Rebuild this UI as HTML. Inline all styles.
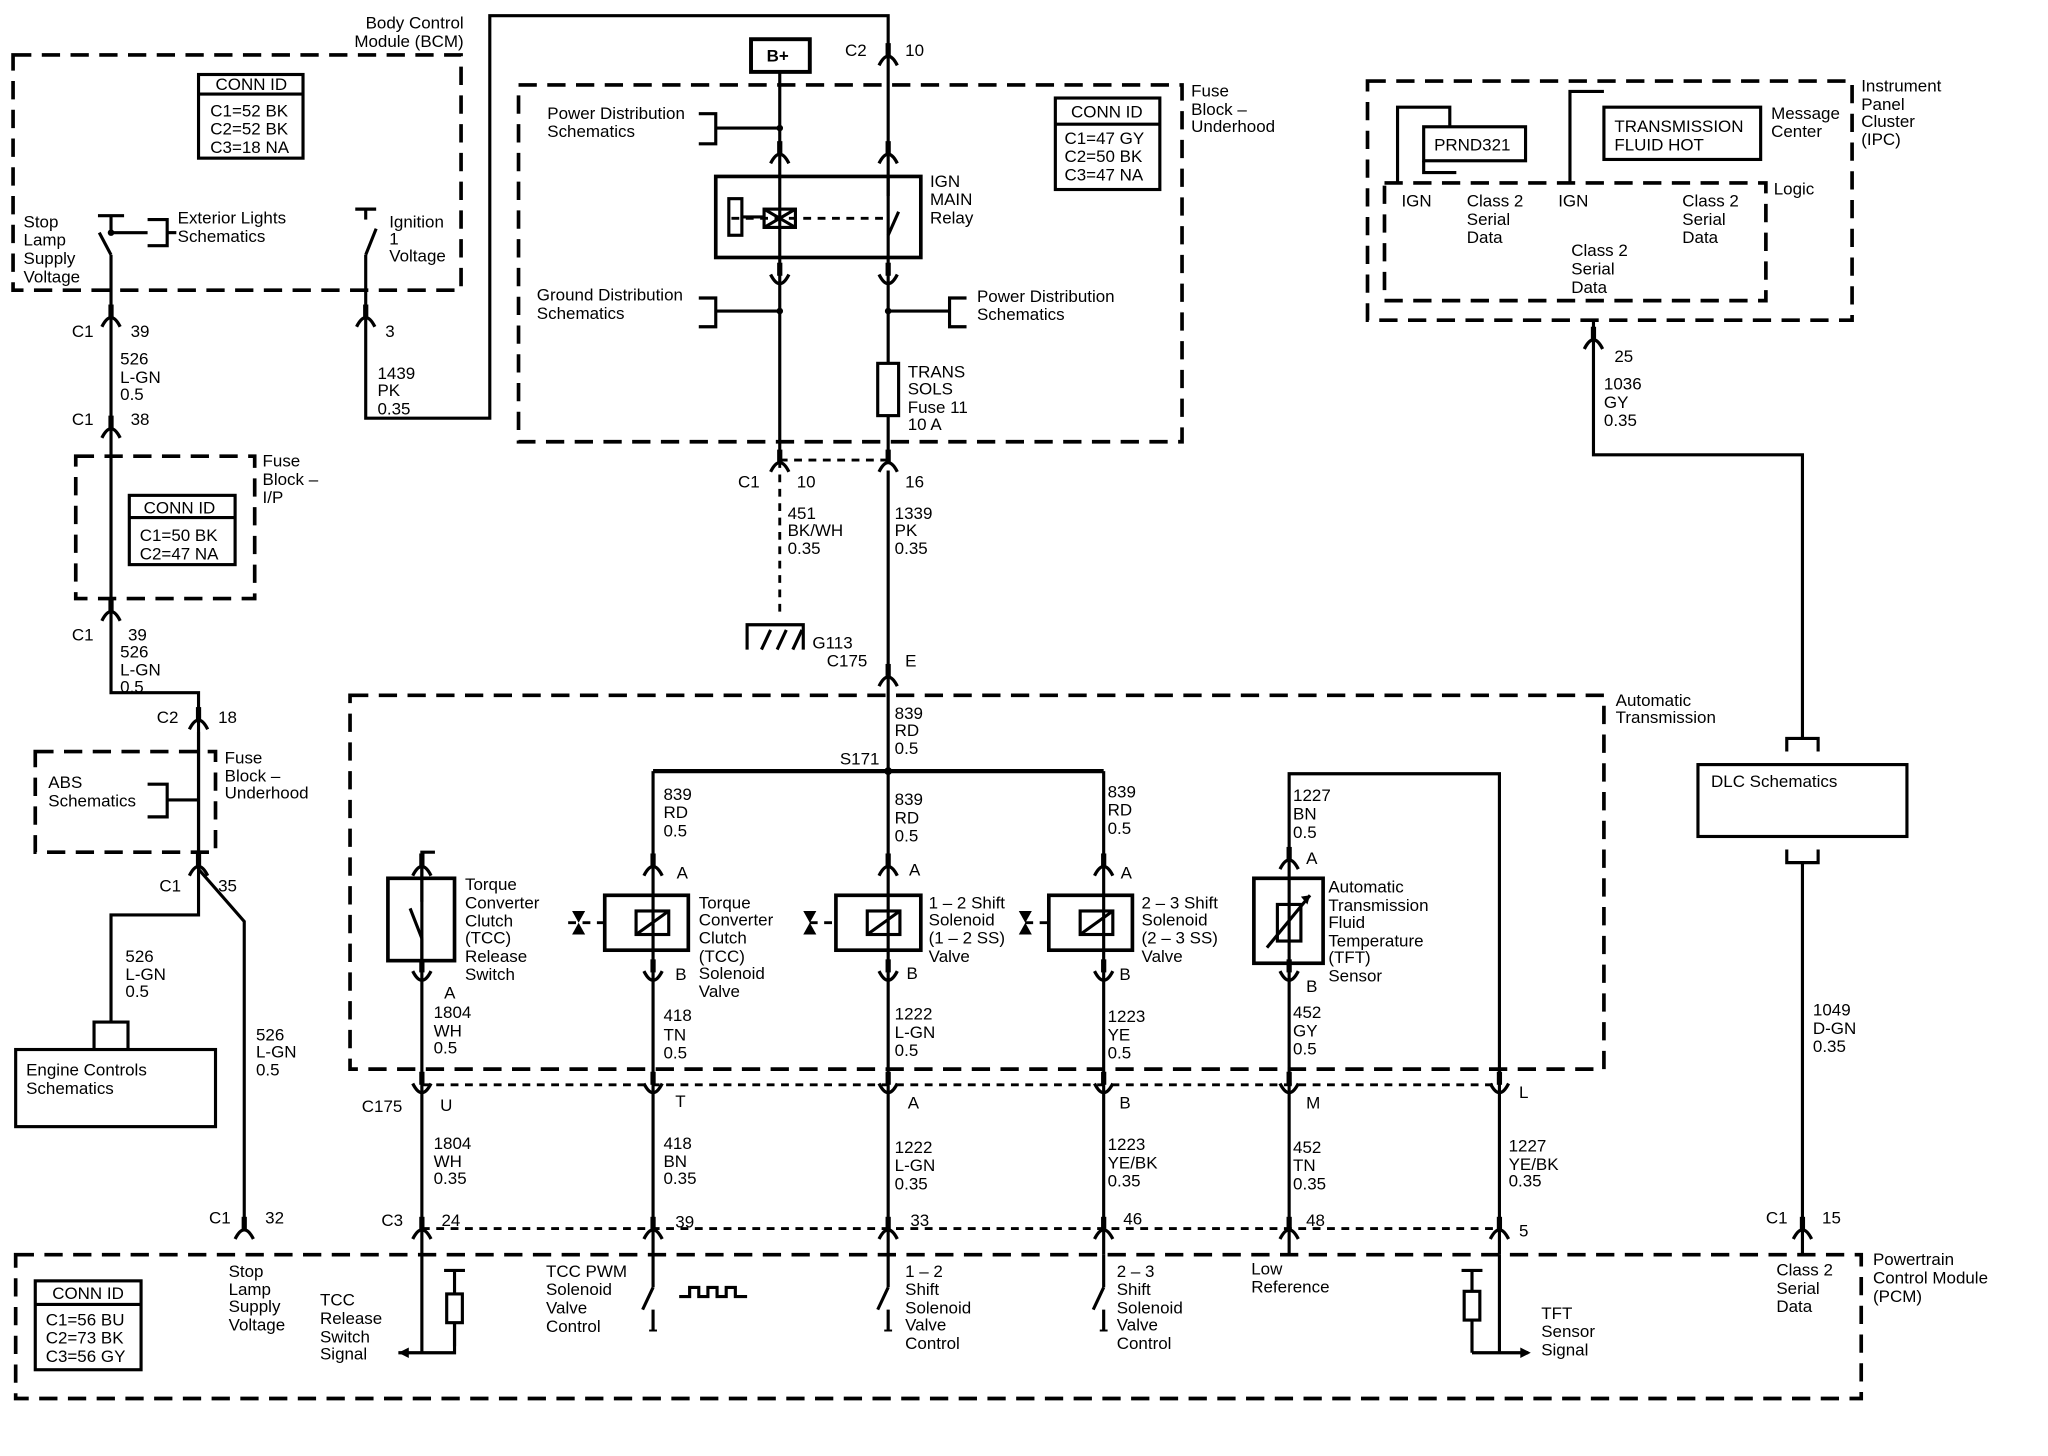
<!DOCTYPE html>
<html><head><meta charset="utf-8"><style>
html,body{margin:0;padding:0;background:#fff}
svg{display:block}
text{font-family:"Liberation Sans",sans-serif;font-size:13px;fill:#000}
</style></head><body>
<svg width="2048" height="1456" viewBox="0 0 1568 1114" preserveAspectRatio="none" xmlns="http://www.w3.org/2000/svg">
<defs>
<g id="cu"><path d="M-7 5 Q0 -9 7 5" fill="none" stroke="#000" stroke-width="2.5"/><line x1="0" y1="-12" x2="0" y2="-2" stroke="#000" stroke-width="4"/></g>
<g id="cd"><path d="M-7 -5 Q0 9 7 -5" fill="none" stroke="#000" stroke-width="2.5"/><line x1="0" y1="-14" x2="0" y2="-4" stroke="#000" stroke-width="4"/></g>
</defs>
<rect width="1568" height="1114" fill="#fff"/>
<g fill="none" stroke="#000" stroke-width="2.8" stroke-dasharray="14,8">
<rect x="10" y="42" width="343" height="180"/>
<rect x="58" y="349" width="137" height="109"/>
<rect x="27" y="575" width="138" height="77"/>
<rect x="397" y="65" width="508" height="273"/>
<rect x="268" y="532" width="960" height="286"/>
<rect x="12" y="960" width="1413" height="110"/>
<rect x="1047" y="62" width="371" height="183"/>
<rect x="1060" y="140" width="292" height="90"/>
</g>
<g fill="none" stroke="#000" stroke-width="2.2" stroke-dasharray="6,5">
<line x1="323" y1="830" x2="1148" y2="830"/>
<line x1="323" y1="940" x2="1148" y2="940"/>
<line x1="597" y1="352" x2="680" y2="352"/>
<line x1="597" y1="352" x2="597" y2="468"/>
<line x1="560" y1="167" x2="680" y2="167"/>
<line x1="435" y1="706" x2="463" y2="706"/><line x1="620" y1="706" x2="640" y2="706"/><line x1="785" y1="706" x2="803" y2="706"/>
</g>
<g fill="none" stroke="#000" stroke-width="2.4">
<polyline points="85,195 85,530 152,530 152,700 85,700 85,782"/>
<line x1="85" y1="178" x2="85" y2="165"/><line x1="75" y1="165" x2="95" y2="165"/>
<line x1="85" y1="195" x2="76" y2="178"/>
<line x1="85" y1="178" x2="113" y2="178"/>
<polyline points="113,168 128,168 128,188 113,188"/><line x1="128" y1="178" x2="135" y2="178"/>
<polyline points="280,168 280,160"/><line x1="272" y1="160" x2="288" y2="160"/>
<line x1="288" y1="175" x2="280" y2="195"/>
<polyline points="280,195 280,320 375,320 375,12 680,12 680,350"/>
<polyline points="152,665 187,705 187,935"/>
<polyline points="113,600 128,600 128,625 113,625"/><line x1="128" y1="612" x2="152" y2="612"/>
<line x1="152" y1="560" x2="152" y2="665"/>
<rect x="12" y="803" width="153" height="59"/>
<polyline points="72,803 72,782 98,782 98,803"/>
<rect x="152" y="57" width="80" height="64"/><line x1="152" y1="72" x2="232" y2="72"/>
<rect x="99" y="379" width="81" height="53"/><line x1="99" y1="396" x2="180" y2="396"/>
<rect x="808" y="75" width="80" height="70"/><line x1="808" y1="95" x2="888" y2="95"/>
<rect x="27" y="980" width="81" height="68"/><line x1="27" y1="998" x2="108" y2="998"/>
<rect x="575" y="30" width="45" height="25" stroke-width="3"/>
<line x1="597" y1="55" x2="597" y2="350"/>
<rect x="548" y="135" width="157" height="62" stroke-width="2.8"/>
<rect x="558" y="152" width="10" height="28"/><polyline points="568,166 585,166"/>
<rect x="585" y="160" width="24" height="14"/><line x1="585" y1="160" x2="609" y2="174"/><line x1="585" y1="174" x2="609" y2="160"/>
<line x1="680" y1="150" x2="680" y2="135"/><line x1="688" y1="162" x2="680" y2="180"/>
<polyline points="535,87 548,87 548,110 535,110"/><line x1="548" y1="98" x2="597" y2="98"/>
<polyline points="535,228 548,228 548,250 535,250"/><line x1="548" y1="238" x2="597" y2="238"/>
<polyline points="740,228 727,228 727,250 740,250"/><line x1="680" y1="238" x2="727" y2="238"/>
<rect x="672" y="278" width="16" height="40" fill="#fff"/>
<polyline points="572,497 572,478 615,478 615,497"/>
<line x1="583" y1="497" x2="590" y2="482"/><line x1="595" y1="497" x2="602" y2="482"/><line x1="607" y1="497" x2="614" y2="482"/>
<line x1="680" y1="360" x2="680" y2="960"/>
<line x1="500" y1="590" x2="845" y2="590" stroke-width="3.2"/>
<polyline points="500,590 500,960"/><line x1="845" y1="590" x2="845" y2="960"/>
<polyline points="987,655 987,592 1148,592 1148,960"/>
<line x1="987" y1="655" x2="987" y2="960"/>
<line x1="323" y1="655" x2="323" y2="1035"/>
<rect x="297" y="672" width="51" height="63" stroke-width="2.8"/>
<line x1="323" y1="662" x2="323" y2="690"/><line x1="314" y1="695" x2="323" y2="718"/><line x1="323" y1="718" x2="323" y2="735"/>
<polyline points="323,662 323,652 333,652"/>
<g stroke-width="2.8">
<rect x="463" y="685" width="64" height="42"/><rect x="640" y="685" width="65" height="42"/><rect x="803" y="685" width="64" height="42"/>
<rect x="960" y="672" width="53" height="65"/>
</g>
<rect x="487" y="697" width="25" height="18"/><rect x="664" y="697" width="25" height="18"/><rect x="827" y="697" width="25" height="18"/>
<line x1="487" y1="715" x2="512" y2="697"/><line x1="664" y1="715" x2="689" y2="697"/><line x1="827" y1="715" x2="852" y2="697"/>
<rect x="978" y="692" width="18" height="28"/><line x1="970" y1="725" x2="1003" y2="685"/>
<line x1="348" y1="972" x2="348" y2="1030"/><rect x="342" y="990" width="12" height="22" fill="#fff"/>
<line x1="340" y1="972" x2="356" y2="972"/><polyline points="348,1012 348,1035 305,1035"/>
<line x1="500" y1="960" x2="500" y2="985"/><line x1="500" y1="985" x2="492" y2="1002"/><line x1="500" y1="1002" x2="500" y2="1018"/>
<polyline points="520,992 528,992 528,985 535,985 535,992 542,992 542,985 549,985 549,992 556,992 556,985 563,985 563,992 572,992"/>
<line x1="680" y1="960" x2="680" y2="985"/><line x1="680" y1="985" x2="672" y2="1002"/><line x1="680" y1="1002" x2="680" y2="1018"/>
<line x1="845" y1="960" x2="845" y2="985"/><line x1="845" y1="985" x2="837" y2="1002"/><line x1="845" y1="1002" x2="845" y2="1018"/>
<line x1="1127" y1="972" x2="1127" y2="1035"/><rect x="1121" y="988" width="12" height="22" fill="#fff"/>
<line x1="1119" y1="972" x2="1135" y2="972"/><polyline points="1127,1035 1170,1035"/>
<line x1="1148" y1="960" x2="1148" y2="1035"/>
<polyline points="1070,140 1070,82 1110,82 1110,97"/><polyline points="1090,123 1090,132 1115,132"/>
<rect x="1090" y="97" width="78" height="26"/>
<polyline points="1202,140 1202,70 1228,70"/>
<rect x="1228" y="82" width="120" height="40"/>
<polyline points="1220,245 1220,348 1380,348 1380,565"/>
<polyline points="1368,575 1368,565 1392,565 1392,575"/>
<rect x="1300" y="585" width="160" height="55"/>
<polyline points="1368,650 1368,660 1392,660 1392,650"/>
<line x1="1380" y1="660" x2="1380" y2="960"/>
</g>
<g fill="#000">
<polygon points="305,1035 313,1031 313,1039"/><polygon points="1172,1035 1164,1031 1164,1039"/>
<polygon points="438,697 448,697 443,706"/><polygon points="438,715 448,715 443,706"/>
<polygon points="615,697 625,697 620,706"/><polygon points="615,715 625,715 620,706"/>
<polygon points="780,697 790,697 785,706"/><polygon points="780,715 790,715 785,706"/>
<polygon points="1003,685 996,686 1001,692"/>
<circle cx="597" cy="98" r="2.5"/><circle cx="597" cy="238" r="2.5"/><circle cx="680" cy="238" r="2.5"/><circle cx="680" cy="590" r="3"/>
<circle cx="85" cy="178" r="2.5"/>
</g>
<g stroke="#000" stroke-width="1.5">
<line x1="497" y1="1018" x2="503" y2="1018"/><line x1="677" y1="1018" x2="683" y2="1018"/><line x1="842" y1="1018" x2="848" y2="1018"/>
</g>
<use href="#cu" x="85" y="245"/><use href="#cu" x="280" y="245"/>
<use href="#cu" x="85" y="330"/><use href="#cu" x="85" y="470"/>
<use href="#cu" x="152" y="553"/><use href="#cu" x="152" y="665"/>
<use href="#cu" x="680" y="45"/>
<use href="#cu" x="597" y="120"/><use href="#cu" x="680" y="120"/>
<use href="#cd" x="597" y="215"/><use href="#cd" x="680" y="215"/>
<use href="#cu" x="597" y="356"/><use href="#cu" x="680" y="356"/>
<use href="#cu" x="680" y="520"/>
<use href="#cu" x="323" y="665"/><use href="#cu" x="500" y="665"/><use href="#cu" x="680" y="665"/><use href="#cu" x="845" y="665"/><use href="#cu" x="987" y="660"/>
<use href="#cd" x="323" y="748"/><use href="#cd" x="500" y="748"/><use href="#cd" x="680" y="748"/><use href="#cd" x="845" y="748"/><use href="#cd" x="987" y="748"/>
<use href="#cd" x="323" y="834"/><use href="#cd" x="500" y="834"/><use href="#cd" x="680" y="834"/><use href="#cd" x="845" y="834"/><use href="#cd" x="987" y="834"/><use href="#cd" x="1148" y="834"/>
<use href="#cu" x="187" y="943"/><use href="#cu" x="323" y="943"/><use href="#cu" x="500" y="943"/><use href="#cu" x="680" y="943"/><use href="#cu" x="845" y="943"/><use href="#cu" x="987" y="943"/><use href="#cu" x="1148" y="943"/><use href="#cu" x="1380" y="943"/>
<use href="#cu" x="1220" y="262"/>
<g>
<text x="355" y="22" text-anchor="end">Body Control</text><text x="355" y="36" text-anchor="end">Module (BCM)</text>
<text x="165" y="69">CONN ID</text><text x="161" y="89">C1=52 BK</text><text x="161" y="103">C2=52 BK</text><text x="161" y="117">C3=18 NA</text>
<text x="18" y="174">Stop</text><text x="18" y="188">Lamp</text><text x="18" y="202">Supply</text><text x="18" y="216">Voltage</text>
<text x="136" y="171">Exterior Lights</text><text x="136" y="185">Schematics</text>
<text x="298" y="174">Ignition</text><text x="298" y="187">1</text><text x="298" y="200">Voltage</text>
<text x="55" y="258">C1</text><text x="100" y="258">39</text><text x="295" y="258">3</text>
<text x="92" y="279">526</text><text x="92" y="293">L-GN</text><text x="92" y="306">0.5</text>
<text x="289" y="290">1439</text><text x="289" y="303">PK</text><text x="289" y="317">0.35</text>
<text x="55" y="325">C1</text><text x="100" y="325">38</text>
<text x="201" y="357">Fuse</text><text x="201" y="371">Block –</text><text x="201" y="385">I/P</text>
<text x="110" y="393">CONN ID</text><text x="107" y="414">C1=50 BK</text><text x="107" y="428">C2=47 NA</text>
<text x="55" y="490">C1</text><text x="98" y="490">39</text><text x="92" y="503">526</text><text x="92" y="517">L-GN</text><text x="92" y="530">0.5</text>
<text x="120" y="553">C2</text><text x="167" y="553">18</text>
<text x="172" y="584">Fuse</text><text x="172" y="598">Block –</text><text x="172" y="611">Underhood</text>
<text x="37" y="603">ABS</text><text x="37" y="617">Schematics</text>
<text x="122" y="682">C1</text><text x="167" y="682">35</text>
<text x="96" y="736">526</text><text x="96" y="750">L-GN</text><text x="96" y="763">0.5</text>
<text x="196" y="796">526</text><text x="196" y="809">L-GN</text><text x="196" y="823">0.5</text>
<text x="20" y="823">Engine Controls</text><text x="20" y="837">Schematics</text>
<text x="587" y="47" font-weight="bold">B+</text>
<text x="647" y="43">C2</text><text x="693" y="43">10</text>
<text x="419" y="91">Power Distribution</text><text x="419" y="105">Schematics</text>
<text x="820" y="90">CONN ID</text><text x="815" y="110">C1=47 GY</text><text x="815" y="124">C2=50 BK</text><text x="815" y="138">C3=47 NA</text>
<text x="912" y="74">Fuse</text><text x="912" y="88">Block –</text><text x="912" y="101">Underhood</text>
<text x="712" y="143">IGN</text><text x="712" y="157">MAIN</text><text x="712" y="171">Relay</text>
<text x="411" y="230">Ground Distribution</text><text x="411" y="244">Schematics</text>
<text x="748" y="231">Power Distribution</text><text x="748" y="245">Schematics</text>
<text x="695" y="289">TRANS</text><text x="695" y="302">SOLS</text><text x="695" y="316">Fuse 11</text><text x="695" y="329">10 A</text>
<text x="565" y="373">C1</text><text x="610" y="373">10</text><text x="693" y="373">16</text>
<text x="603" y="397">451</text><text x="603" y="410">BK/WH</text><text x="603" y="424">0.35</text>
<text x="685" y="397">1339</text><text x="685" y="410">PK</text><text x="685" y="424">0.35</text>
<text x="622" y="496">G113</text><text x="633" y="510">C175</text><text x="693" y="510">E</text>
<text x="1237" y="540">Automatic</text><text x="1237" y="553">Transmission</text>
<text x="685" y="550">839</text><text x="685" y="563">RD</text><text x="685" y="577">0.5</text>
<text x="643" y="585">S171</text>
<text x="508" y="612">839</text><text x="508" y="626">RD</text><text x="508" y="640">0.5</text>
<text x="685" y="616">839</text><text x="685" y="630">RD</text><text x="685" y="644">0.5</text>
<text x="848" y="610">839</text><text x="848" y="624">RD</text><text x="848" y="638">0.5</text>
<text x="990" y="613">1227</text><text x="990" y="627">BN</text><text x="990" y="641">0.5</text>
<text x="518" y="672">A</text><text x="696" y="670">A</text><text x="858" y="672">A</text><text x="1000" y="661">A</text>
<text x="356" y="681">Torque</text><text x="356" y="695">Converter</text><text x="356" y="709">Clutch</text><text x="356" y="722">(TCC)</text><text x="356" y="736">Release</text><text x="356" y="750">Switch</text>
<text x="535" y="695">Torque</text><text x="535" y="708">Converter</text><text x="535" y="722">Clutch</text><text x="535" y="736">(TCC)</text><text x="535" y="749">Solenoid</text><text x="535" y="763">Valve</text>
<text x="711" y="695">1 – 2 Shift</text><text x="711" y="708">Solenoid</text><text x="711" y="722">(1 – 2 SS)</text><text x="711" y="736">Valve</text>
<text x="874" y="695">2 – 3 Shift</text><text x="874" y="708">Solenoid</text><text x="874" y="722">(2 – 3 SS)</text><text x="874" y="736">Valve</text>
<text x="1017" y="683">Automatic</text><text x="1017" y="697">Transmission</text><text x="1017" y="710">Fluid</text><text x="1017" y="724">Temperature</text><text x="1017" y="737">(TFT)</text><text x="1017" y="751">Sensor</text>
<text x="340" y="764">A</text><text x="517" y="750">B</text><text x="694" y="749">B</text><text x="857" y="750">B</text><text x="1000" y="759">B</text>
<text x="332" y="779">1804</text><text x="332" y="793">WH</text><text x="332" y="806">0.5</text>
<text x="508" y="781">418</text><text x="508" y="796">TN</text><text x="508" y="810">0.5</text>
<text x="685" y="780">1222</text><text x="685" y="794">L-GN</text><text x="685" y="808">0.5</text>
<text x="848" y="782">1223</text><text x="848" y="796">YE</text><text x="848" y="810">0.5</text>
<text x="990" y="779">452</text><text x="990" y="793">GY</text><text x="990" y="807">0.5</text>
<text x="277" y="851">C175</text><text x="337" y="850">U</text><text x="517" y="847">T</text><text x="695" y="848">A</text><text x="857" y="848">B</text><text x="1000" y="848">M</text><text x="1163" y="840">L</text>
<text x="332" y="879">1804</text><text x="332" y="893">WH</text><text x="332" y="906">0.35</text>
<text x="508" y="879">418</text><text x="508" y="893">BN</text><text x="508" y="906">0.35</text>
<text x="685" y="882">1222</text><text x="685" y="896">L-GN</text><text x="685" y="910">0.35</text>
<text x="848" y="880">1223</text><text x="848" y="894">YE/BK</text><text x="848" y="908">0.35</text>
<text x="990" y="882">452</text><text x="990" y="896">TN</text><text x="990" y="910">0.35</text>
<text x="1155" y="881">1227</text><text x="1155" y="895">YE/BK</text><text x="1155" y="908">0.35</text>
<text x="1388" y="777">1049</text><text x="1388" y="791">D-GN</text><text x="1388" y="805">0.35</text>
<text x="160" y="936">C1</text><text x="203" y="936">32</text><text x="292" y="938">C3</text><text x="338" y="938">24</text>
<text x="517" y="939">39</text><text x="697" y="938">33</text><text x="860" y="937">46</text><text x="1000" y="938">48</text><text x="1163" y="946">5</text>
<text x="1352" y="936">C1</text><text x="1395" y="936">15</text>
<text x="1434" y="968">Powertrain</text><text x="1434" y="982">Control Module</text><text x="1434" y="996">(PCM)</text>
<text x="40" y="994">CONN ID</text><text x="35" y="1014">C1=56 BU</text><text x="35" y="1028">C2=73 BK</text><text x="35" y="1042">C3=56 GY</text>
<text x="175" y="977">Stop</text><text x="175" y="991">Lamp</text><text x="175" y="1004">Supply</text><text x="175" y="1018">Voltage</text>
<text x="245" y="999">TCC</text><text x="245" y="1013">Release</text><text x="245" y="1027">Switch</text><text x="245" y="1040">Signal</text>
<text x="418" y="977">TCC PWM</text><text x="418" y="991">Solenoid</text><text x="418" y="1005">Valve</text><text x="418" y="1019">Control</text>
<text x="693" y="977">1 – 2</text><text x="693" y="991">Shift</text><text x="693" y="1005">Solenoid</text><text x="693" y="1018">Valve</text><text x="693" y="1032">Control</text>
<text x="855" y="977">2 – 3</text><text x="855" y="991">Shift</text><text x="855" y="1005">Solenoid</text><text x="855" y="1018">Valve</text><text x="855" y="1032">Control</text>
<text x="958" y="975">Low</text><text x="958" y="989">Reference</text>
<text x="1180" y="1009">TFT</text><text x="1180" y="1023">Sensor</text><text x="1180" y="1037">Signal</text>
<text x="1360" y="976">Class 2</text><text x="1360" y="990">Serial</text><text x="1360" y="1004">Data</text>
<text x="1425" y="70">Instrument</text><text x="1425" y="84">Panel</text><text x="1425" y="97">Cluster</text><text x="1425" y="111">(IPC)</text>
<text x="1356" y="91">Message</text><text x="1356" y="105">Center</text><text x="1358" y="149">Logic</text>
<text x="1098" y="115">PRND321</text>
<text x="1236" y="101">TRANSMISSION</text><text x="1236" y="115">FLUID HOT</text>
<text x="1073" y="158">IGN</text><text x="1123" y="158">Class 2</text><text x="1123" y="172">Serial</text><text x="1123" y="186">Data</text>
<text x="1193" y="158">IGN</text><text x="1288" y="158">Class 2</text><text x="1288" y="172">Serial</text><text x="1288" y="186">Data</text>
<text x="1203" y="196">Class 2</text><text x="1203" y="210">Serial</text><text x="1203" y="224">Data</text>
<text x="1236" y="277">25</text><text x="1228" y="298">1036</text><text x="1228" y="312">GY</text><text x="1228" y="326">0.35</text>
<text x="1310" y="602">DLC Schematics</text>
</g>
</svg>
</body></html>
